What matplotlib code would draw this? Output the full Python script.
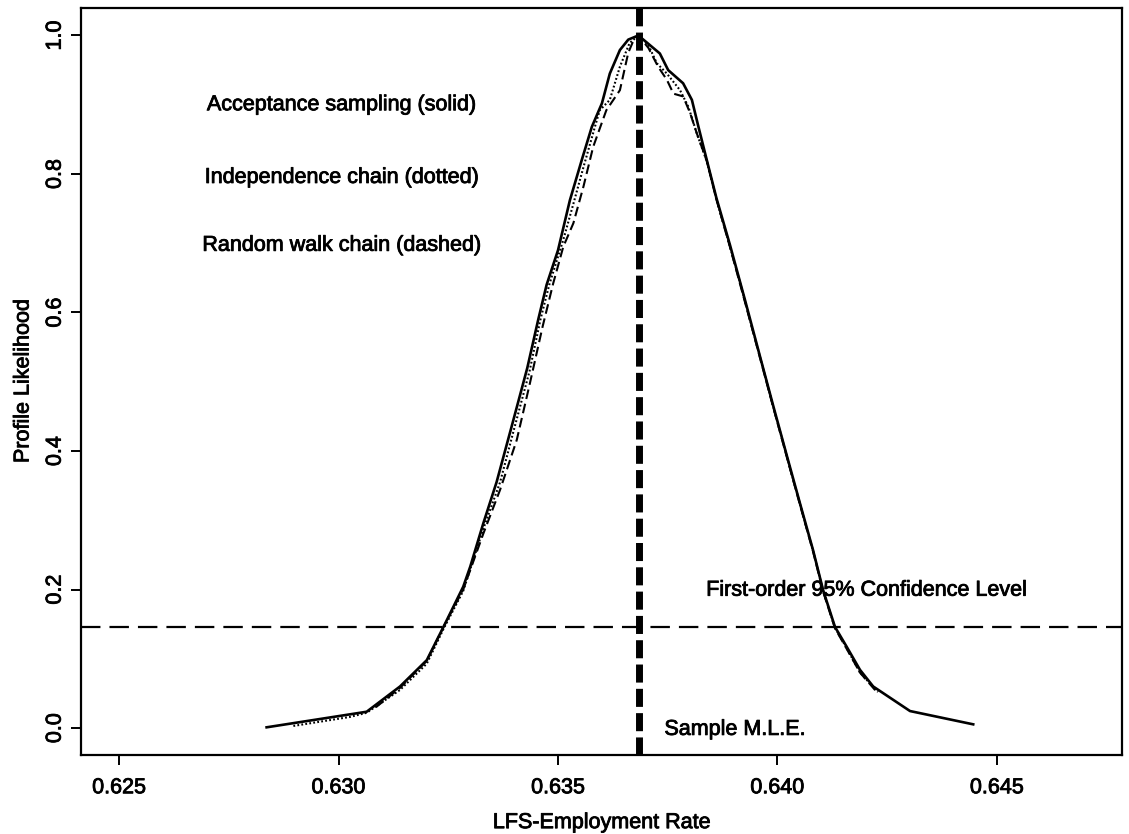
import numpy as np
import matplotlib
matplotlib.use("Agg")
import matplotlib.pyplot as plt
import matplotlib.patheffects as pe

plt.rcParams['font.family'] = ['Liberation Sans', 'DejaVu Sans']
plt.rcParams['lines.scale_dashes'] = False

# Acceptance sampling (solid)
acc_x = [0.62836, 0.63064, 0.63140, 0.63201, 0.63239, 0.63284, 0.63300, 0.63330,
         0.63360, 0.63395, 0.63430, 0.63455, 0.63474, 0.63500, 0.63527, 0.63554,
         0.63577, 0.63600, 0.63618, 0.63641, 0.63660, 0.63683, 0.63702, 0.63732,
         0.63751, 0.63785, 0.63805, 0.63820, 0.63839, 0.63861, 0.63892, 0.63926,
         0.63960, 0.63990, 0.64021, 0.64051, 0.64081, 0.64104, 0.64131, 0.64158,
         0.64188, 0.64218, 0.64302, 0.64446]
acc_y = [0.001, 0.0235, 0.060, 0.098, 0.146, 0.204, 0.233, 0.296,
         0.355, 0.437, 0.520, 0.590, 0.640, 0.690, 0.762, 0.820,
         0.868, 0.902, 0.945, 0.979, 0.994, 1.000, 0.990, 0.974,
         0.950, 0.931, 0.907, 0.868, 0.820, 0.765, 0.697, 0.618,
         0.537, 0.466, 0.394, 0.325, 0.257, 0.199, 0.146, 0.117,
         0.084, 0.060, 0.0245, 0.0053]

# Independence chain (dotted)
ind_x = [0.62897, 0.63026, 0.63064, 0.63140, 0.63201, 0.63239, 0.63284, 0.63330,
         0.63368, 0.63400, 0.63435, 0.63460, 0.63480, 0.63512, 0.63535, 0.63558,
         0.63584, 0.63595, 0.63618, 0.63641, 0.63663, 0.63683, 0.63706, 0.63725,
         0.63748, 0.63778, 0.63797, 0.63816, 0.63839, 0.63861, 0.63892, 0.63926,
         0.63960, 0.63990, 0.64021, 0.64051, 0.64081, 0.64104, 0.64131, 0.64158,
         0.64188, 0.64229]
ind_y = [0.003, 0.016, 0.022, 0.055, 0.093, 0.143, 0.198, 0.288,
         0.355, 0.432, 0.515, 0.590, 0.640, 0.705, 0.757, 0.810,
         0.868, 0.892, 0.907, 0.955, 0.989, 1.000, 0.986, 0.960,
         0.945, 0.921, 0.897, 0.859, 0.818, 0.763, 0.695, 0.617,
         0.536, 0.465, 0.393, 0.324, 0.256, 0.198, 0.145, 0.115,
         0.080, 0.052]

# Random walk chain (dashed)
rw_x = [0.63085, 0.63140, 0.63201, 0.63239, 0.63284, 0.63330, 0.63368, 0.63406,
        0.63436, 0.63465, 0.63489, 0.63512, 0.63535, 0.63558, 0.63580, 0.63610,
        0.63641, 0.63660, 0.63672, 0.63683, 0.63706, 0.63728, 0.63748, 0.63763,
        0.63785, 0.63801, 0.63816, 0.63839, 0.63861, 0.63892, 0.63926, 0.63960,
        0.63990, 0.64021, 0.64051, 0.64081, 0.64104, 0.64131, 0.64158, 0.64188,
        0.64229]
rw_y = [0.030, 0.058, 0.097, 0.146, 0.200, 0.281, 0.344, 0.416,
        0.498, 0.580, 0.642, 0.695, 0.729, 0.782, 0.839, 0.892,
        0.921, 0.975, 0.993, 1.000, 0.982, 0.955, 0.936, 0.916,
        0.912, 0.888, 0.859, 0.819, 0.763, 0.694, 0.615, 0.535,
        0.464, 0.392, 0.323, 0.255, 0.197, 0.144, 0.114, 0.080,
        0.050]

mle = 0.636845
conf_level = 0.1465

xticks = [0.625, 0.630, 0.635, 0.640, 0.645]
yticks = [0.0, 0.2, 0.4, 0.6, 0.8, 1.0]

fig = plt.figure(figsize=(11.29, 8.34), dpi=100)
ax = fig.add_axes([0.0717, 0.0947, 0.9221, 0.8963])

ax.plot(acc_x, acc_y, color='black', lw=1.9, solid_joinstyle='round')
ax.plot(ind_x, ind_y, color='black', lw=1.5, dashes=(1.3, 1.6))
ax.plot(rw_x, rw_y, color='black', lw=1.5, dashes=(7, 3.5))

ax.axvline(mle, color='black', lw=5, dashes=(13, 4.5))
ax.axhline(conf_level, color='black', lw=1.6, dashes=(14, 6.5))

# scanned print looks a bit heavier than regular weight
heavy = [pe.withStroke(linewidth=0.6, foreground='black')]

fs = 15.5
ax.text(0.63006, 0.90, 'Acceptance sampling (solid)', ha='center', va='center', fontsize=fs, path_effects=heavy)
ax.text(0.63006, 0.795, 'Independence chain (dotted)', ha='center', va='center', fontsize=fs, path_effects=heavy)
ax.text(0.63006, 0.697, 'Random walk chain (dashed)', ha='center', va='center', fontsize=fs, path_effects=heavy)
ax.text(0.64202, 0.199, 'First-order 95% Confidence Level', ha='center', va='center', fontsize=fs, path_effects=heavy)
ax.text(0.63903, -0.002, 'Sample M.L.E.', ha='center', va='center', fontsize=fs, path_effects=heavy)

ax.set_xlim(0.62413, 0.64785)
ax.set_ylim(-0.039, 1.0404)
ax.set_xticks(xticks)
ax.set_xticklabels(['%.3f' % v for v in xticks])
ax.set_yticks(yticks)
ax.set_yticklabels(['%.1f' % v for v in yticks], rotation=90, va='center')

ax.tick_params(direction='out', length=7, width=1.4, labelsize=fs)
ax.tick_params(axis='x', pad=9)
ax.tick_params(axis='y', pad=4)
for lab in ax.get_xticklabels() + ax.get_yticklabels():
    lab.set_path_effects(heavy)
for s in ax.spines.values():
    s.set_linewidth(1.6)

ax.set_xlabel('LFS-Employment Rate', fontsize=fs, labelpad=10, path_effects=heavy)
ax.set_ylabel('Profile Likelihood', fontsize=fs, labelpad=8, path_effects=heavy)

fig.savefig('out.png', dpi=100)
